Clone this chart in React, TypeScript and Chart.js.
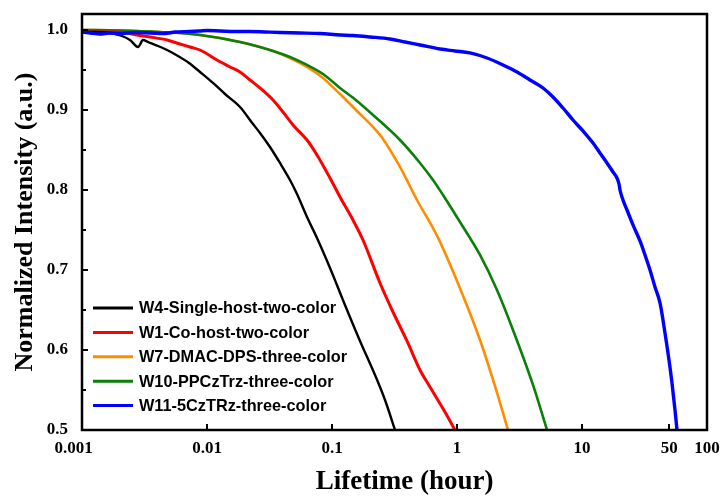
import React, { useEffect, useRef } from "react";
import { Chart, registerables } from "chart.js";

Chart.register(...registerables);

// ---- axis ticks ----
const xTickValues = [0.001, 0.01, 0.1, 1, 10, 50, 100];
const xTickLabels = ["0.001\u00a0\u00a0\u00a0\u00a0", "0.01", "0.1", "1", "10", "50", "100"];
const yTickValues = [0.5, 0.6, 0.7, 0.8, 0.9, 1.0];
const yTickLabels = ["0.5", "0.6", "0.7", "0.8", "0.9", "1.0"];
const yMinorTicks = [0.55, 0.65, 0.75, 0.85, 0.95];

// ---- series ----
const seriesNames = [
  "W4-Single-host-two-color",
  "W1-Co-host-two-color",
  "W7-DMAC-DPS-three-color",
  "W10-PPCzTrz-three-color",
  "W11-5CzTRz-three-color",
];
const seriesColors = ["#000000", "#ff0000", "#ff8c00", "#0a800a", "#0000ff"];

const w4Time = [0.001, 0.00127, 0.00167, 0.00209, 0.00242, 0.00281, 0.00308, 0.0035, 0.00406, 0.00479, 0.00586, 0.00718, 0.00879, 0.01117, 0.01393, 0.01837, 0.02333, 0.02655, 0.0319, 0.03837, 0.04613, 0.05248, 0.0631, 0.07586, 0.0964, 0.127, 0.1675, 0.2208, 0.2655, 0.3192];
const w4Int = [0.9975, 0.9975, 0.9963, 0.9925, 0.9875, 0.9788, 0.9875, 0.9838, 0.98, 0.975, 0.9675, 0.9588, 0.9475, 0.9338, 0.92, 0.9038, 0.8825, 0.8713, 0.8538, 0.8338, 0.8125, 0.795, 0.7663, 0.74, 0.7025, 0.6563, 0.6113, 0.5688, 0.5375, 0.5];

const w1Time = [0.001, 0.00139, 0.00201, 0.00275, 0.0035, 0.00479, 0.00608, 0.00731, 0.00879, 0.01202, 0.01528, 0.01837, 0.02208, 0.02655, 0.03373, 0.04055, 0.04875, 0.0631, 0.07586, 0.0964, 0.1159, 0.1472, 0.177, 0.2421, 0.3076, 0.3981, 0.5058, 0.6081, 0.8017, 0.9638];
const w1Int = [0.9975, 0.9975, 0.9975, 0.9938, 0.9913, 0.9875, 0.9825, 0.9788, 0.975, 0.9625, 0.9538, 0.9475, 0.9375, 0.9275, 0.9125, 0.8975, 0.8813, 0.8625, 0.8438, 0.815, 0.7913, 0.7625, 0.7375, 0.6838, 0.6475, 0.6113, 0.575, 0.5538, 0.5225, 0.5];

const w7Time = [0.001, 0.00201, 0.00421, 0.00879, 0.01837, 0.03373, 0.04613, 0.0631, 0.08472, 0.1159, 0.1585, 0.2128, 0.2559, 0.35, 0.4786, 0.6918, 1.0, 1.528, 1.977, 2.559];
const w7Int = [1.0, 0.9994, 0.9975, 0.9938, 0.985, 0.9738, 0.965, 0.9538, 0.94, 0.92, 0.8988, 0.8788, 0.8638, 0.8288, 0.7875, 0.743, 0.6863, 0.6125, 0.5588, 0.5];

const w10Time = [0.001, 0.00201, 0.00421, 0.00879, 0.01837, 0.03373, 0.04613, 0.0631, 0.08472, 0.1159, 0.1585, 0.2128, 0.35, 0.5058, 0.6427, 0.7727, 0.879, 1.057, 1.528, 2.089, 2.805, 4.055, 5.248];
const w10Int = [1.0, 0.9994, 0.9975, 0.9938, 0.985, 0.9738, 0.9663, 0.9563, 0.945, 0.9275, 0.9113, 0.8938, 0.8625, 0.8338, 0.8125, 0.7938, 0.78, 0.76, 0.7188, 0.675, 0.625, 0.5563, 0.5];

const w11Time = [0.001, 0.00116, 0.00139, 0.00167, 0.00201, 0.00265, 0.0035, 0.00461, 0.00555, 0.00731, 0.00879, 0.01, 0.0127, 0.01675, 0.02208, 0.02911, 0.03837, 0.05546, 0.08017, 0.1159, 0.1472, 0.2014, 0.2911, 0.3837, 0.5058, 0.7311, 0.9638, 1.27, 1.738, 2.333, 3.02, 3.837, 4.875, 5.861, 7.047, 8.472, 10.19, 12.25, 13.93, 15.85, 17.7, 19.05, 19.77, 20.14, 21.28, 22.91, 25.59, 29.11, 31.92, 35.0, 38.37, 42.07, 46.13, 49.66, 52.48, 55.46, 57.54];
const w11Int = [0.9975, 0.9963, 0.995, 0.9963, 0.9956, 0.9969, 0.9963, 0.9956, 0.9975, 0.9981, 0.9988, 0.9994, 0.9988, 0.9981, 0.9981, 0.9975, 0.9969, 0.9963, 0.9956, 0.9938, 0.9931, 0.9913, 0.9888, 0.985, 0.9813, 0.9763, 0.9738, 0.9713, 0.965, 0.9563, 0.9475, 0.9375, 0.9275, 0.9163, 0.9025, 0.8875, 0.8738, 0.8588, 0.8463, 0.8338, 0.8225, 0.815, 0.8075, 0.8, 0.7875, 0.775, 0.7563, 0.7363, 0.7188, 0.7, 0.6788, 0.6588, 0.6213, 0.5875, 0.5588, 0.525, 0.5];

const seriesTimes = [w4Time, w1Time, w7Time, w10Time, w11Time];
const seriesInts = [w4Int, w1Int, w7Int, w10Int, w11Int];
const seriesWidths = [2.4, 3, 2.6, 2.6, 3.4];
const seriesOrder = [1, 2, 4, 3, 0];

const pair = (xs: number[], ys: number[]) =>
  xs.slice(0, Math.min(xs.length, ys.length)).map((x, i) => ({ x, y: ys[i] }));

const SERIF = "'Liberation Serif', 'Times New Roman', serif";
const SANS = "'Liberation Sans', Arial, sans-serif";

const framePlugin = {
  id: "frameAndLegend",
  afterDatasetsDraw(chart: any) {
    const { ctx, chartArea: a, scales } = chart;
    const xs = scales.x;
    const ys = scales.y;
    ctx.save();
    ctx.strokeStyle = "#000";
    ctx.lineWidth = 2;
    ctx.beginPath();
    xTickValues.forEach((v) => {
      const px = Math.round(xs.getPixelForValue(v));
      ctx.moveTo(px, a.bottom);
      ctx.lineTo(px, a.bottom - 6);
    });
    yTickValues.forEach((v) => {
      const py = Math.round(ys.getPixelForValue(v));
      ctx.moveTo(a.left, py);
      ctx.lineTo(a.left + 6, py);
    });
    yMinorTicks.forEach((v) => {
      const py = Math.round(ys.getPixelForValue(v));
      ctx.moveTo(a.left, py);
      ctx.lineTo(a.left + 4, py);
    });
    ctx.stroke();
    ctx.lineWidth = 2.5;
    ctx.strokeRect(a.left, a.top, a.right - a.left, a.bottom - a.top);

    // legend inside plot, bottom-left
    const lx = a.left + 11;
    const ly0 = a.bottom - 122;
    const step = 24.4;
    ctx.font = `bold 16.3px ${SANS}`;
    ctx.textBaseline = "middle";
    ctx.textAlign = "left";
    chart.data.datasets.forEach((ds: any, i: number) => {
      const y = ly0 + i * step;
      ctx.strokeStyle = ds.borderColor;
      ctx.lineWidth = 3;
      ctx.beginPath();
      ctx.moveTo(lx, y);
      ctx.lineTo(lx + 40, y);
      ctx.stroke();
      ctx.fillStyle = "#000";
      ctx.fillText(ds.label, lx + 46, y + 1);
    });
    ctx.restore();
  },
};

const zeroPadding = (scale: any) => {
  scale.paddingTop = 0;
  scale.paddingBottom = 0;
  scale.paddingLeft = 0;
  scale.paddingRight = 0;
};

export default function App() {
  const canvasRef = useRef<HTMLCanvasElement | null>(null);

  useEffect(() => {
    if (!canvasRef.current) return;
    const datasets = seriesNames.map((name, i) => ({
      label: name,
      data: pair(seriesTimes[i], seriesInts[i]),
      borderColor: seriesColors[i],
      backgroundColor: seriesColors[i],
      borderWidth: seriesWidths[i],
      pointRadius: 0,
      tension: 0,
      cubicInterpolationMode: "monotone" as const,
      order: seriesOrder[i],
      fill: false,
    }));
    const chart = new Chart(canvasRef.current, {
      type: "line",
      data: { datasets },
      options: {
        animation: false,
        responsive: true,
        maintainAspectRatio: false,
        layout: { padding: { top: 14, right: 14, left: 0, bottom: 0 } },
        plugins: { legend: { display: false }, tooltip: { enabled: false } },
        scales: {
          x: {
            type: "logarithmic",
            min: 0.001,
            max: 100,
            position: "bottom",
            grid: { display: false, drawTicks: false },
            border: { display: false },
            afterBuildTicks: (scale: any) => {
              scale.ticks = xTickValues.map((v) => ({ value: v }));
            },
            afterFit: (scale: any) => {
              scale.height = 68;
              zeroPadding(scale);
            },
            ticks: {
              autoSkip: false,
              maxRotation: 0,
              padding: 8,
              color: "#000",
              font: { family: SERIF, size: 17, weight: "bold" },
              callback: (value: any) => {
                const idx = xTickValues.indexOf(Number(value));
                return idx >= 0 ? xTickLabels[idx] : "";
              },
            },
            title: {
              display: true,
              text: "\u00a0\u00a0\u00a0Lifetime (hour)",
              color: "#000",
              padding: { top: 0, bottom: 0 },
              font: { family: SERIF, size: 27, weight: "bold", lineHeight: 1.2 },
            },
          },
          y: {
            type: "linear",
            min: 0.5,
            max: 1.02,
            grid: { display: false, drawTicks: false },
            border: { display: false },
            afterBuildTicks: (scale: any) => {
              scale.ticks = yTickValues.map((v) => ({ value: v }));
            },
            afterFit: (scale: any) => {
              scale.width = 82;
              zeroPadding(scale);
            },
            ticks: {
              padding: 14,
              color: "#000",
              font: { family: SERIF, size: 17, weight: "bold" },
              callback: (value: any) => {
                const idx = yTickValues.findIndex((v) => Math.abs(v - Number(value)) < 1e-6);
                return idx >= 0 ? yTickLabels[idx] : "";
              },
            },
            title: {
              display: true,
              text: "Normalized Intensity (a.u.)",
              color: "#000",
              padding: { top: 10, bottom: 0 },
              font: { family: SERIF, size: 26, weight: "bold", lineHeight: 1.2 },
            },
          },
        },
      },
      plugins: [framePlugin],
    });
    return () => chart.destroy();
  }, []);

  return (
    <div
      style={{
        position: "fixed",
        left: 0,
        top: 0,
        width: 721,
        height: 498,
        background: "#fff",
      }}
    >
      <canvas ref={canvasRef} />
    </div>
  );
}
